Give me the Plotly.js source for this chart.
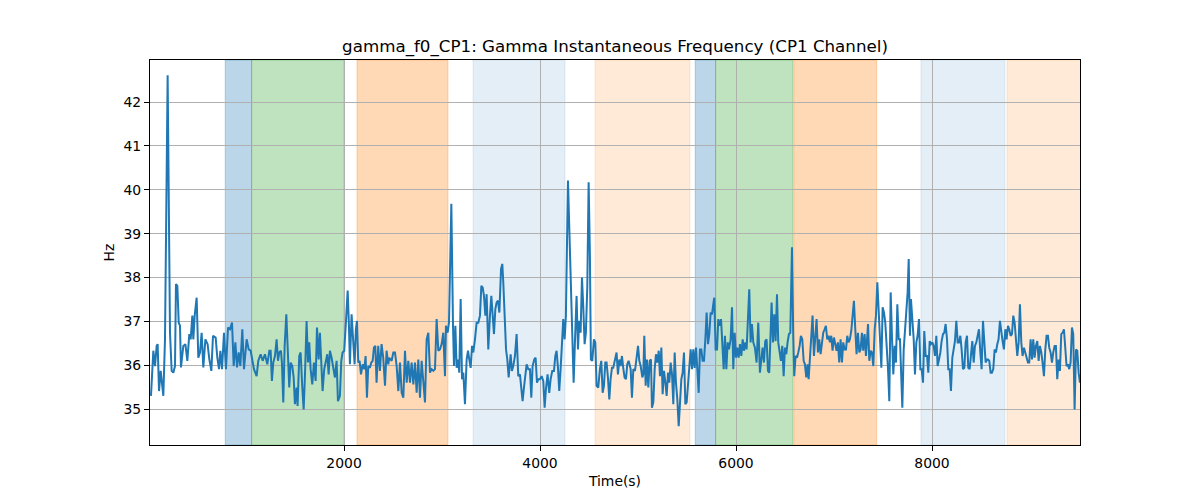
<!DOCTYPE html>
<html>
<head>
<meta charset="utf-8">
<script src="https://cdn.plot.ly/plotly-3.0.1.min.js"></script>
<style>
  body { margin: 0; background: #fff; }
  #myDiv { width: 1200px; height: 500px; }
</style>
</head>
<body>
<div id="myDiv"></div>
<script>
// sample times (s)
var time = [
  30,54,71,88,98,112,129,156,173,200,224,241,258,275,285,299,313,326,336,360,381,401,421,435,452,462,476,496,513,530,547,564,585,608,625,646,663,690,707,724,738,755,775,795,816,836,857,874,891,908,925,942,962,979,1006,1027,1047,1064,1081,1108,1125,1149,1170,1193,1217,1238,
  1251,1264,1278,1295,1312,1326,1339,1356,1366,1380,1394,1411,1424,1441,1455,1472,1486,1499,1516,1526,1543,1557,1574,1588,1601,1618,1632,1645,1659,1676,1693,1710,1724,1741,1754,1768,1781,1798,1815,1829,1843,1856,1873,1890,1907,1924,1938,1958,1972,1985,2002,2020,2037,2050,2060,2077,2091,2108,2121,2132,2145,2159,2173,2190,2207,2220,2234,2247,2264,2278,2292,2305,2319,2332,2349,2366,2383,2400,2418,2434,2451,
  2462,2486,2503,2520,2537,2554,2571,2588,2605,2622,2639,2656,2673,2690,2707,2724,2741,2758,2775,2792,2809,2826,2843,2860,2877,2894,2911,2928,2945,2962,2979,2996,3013,3030,3040,3057,3071,3095,3112,3122,3136,3149,3163,3176,3190,3204,3217,3234,3251,3265,3278,3292,3306,3319,3336,3353,3370,3387,3401,3415,3428,3442,3455,3472,3489,3503,3517,3530,3544,3557,3571,3585,3602,3615,3625,3639,3653,3666,3680,
  3700,3713,3727,3744,3761,3778,3795,3809,3822,3836,3849,3863,3880,3897,3911,3924,3941,3955,3969,3982,3999,4016,4033,4047,4060,4077,4094,4108,4125,4142,4156,4169,4183,4196,4210,4224,4237,4251,4264,4285,4298,4315,4329,4343,4356,4373,4387,4400,4414,4428,4441,4455,4468,4482,4496,4509,4519,4533,4550,4564,4577,4594,4611,4625,4639,4652,4666,4679,4693,4707,4720,4734,4747,4764,4781,4795,4809,4822,4836,4849,4863,4877,4890,4904,
  4925,4938,4952,4969,4986,5000,5013,5027,5044,5054,5064,5078,5091,5105,5119,5132,5142,5156,5170,5183,5197,5211,5224,5238,5251,5265,5279,5292,5306,5319,5333,5347,5360,5374,5387,5401,5415,5428,5442,5455,5469,5483,5496,5510,5523,5537,5551,5564,5578,5591,5605,5619,5632,5646,5659,5673,5687,5700,5714,5727,5741,5755,5768,5778,5792,5806,5819,5833,5847,5860,5874,5887,5901,5915,5928,5945,5959,5972,5986,6000,6013,6027,6040,6054,6068,6081,6095,6108,6122,
  6135,6149,6162,6176,6193,6210,6227,6244,6258,6271,6285,6298,6312,6326,6339,6353,6363,6377,6390,6404,6418,6431,6445,6458,6472,6486,6499,6513,6526,6540,6554,6571,6584,6594,6608,6622,6635,6649,6662,6676,6690,6703,6717,6730,6741,6754,6768,6781,6795,6809,6822,6836,6849,6863,6877,6890,6904,6917,6931,6945,6958,6972,6985,6999,7013,7026,7040,7053,7067,7081,7094,7108,7122,7135,7149,7162,7176,7190,7203,7217,7230,7244,7258,7271,7285,7298,7312,7326,7339,
  7347,7360,7374,7387,7401,7415,7428,7442,7455,7469,7483,7496,7510,7523,7537,7551,7564,7578,7591,7605,7619,7632,7646,7660,7673,7687,7697,7711,7724,7738,7751,7762,7775,7785,7799,7813,7826,7840,7853,7867,7881,7894,7908,7921,7935,7949,7962,7976,7989,8003,8017,8030,8044,8057,8071,8085,8098,8112,8125,8139,8153,8166,8180,8193,8207,8221,8234,8248,8262,8275,8289,8302,8316,8330,8343,8357,8370,8384,8398,8411,8425,8438,8452,8466,8479,8493,8506,8520,8534,8547,8561,
  8571,8584,8598,8611,8625,8639,8652,8666,8679,8693,8707,8720,8734,8748,8761,8775,8788,8802,8816,8829,8843,8856,8870,8884,8897,8911,8924,8938,8952,8965,8979,8992,9006,9020,9033,9047,9060,9074,9088,9101,9115,9128,9142,9156,9169,9183,9196,9210,9224,9237,9251,9264,9278,9292,9305,9319,9332,9346,9360,9373,9387,9400,9414,9428,9441,9455,9469,9482,9496,9509
];

// gamma instantaneous frequency (Hz)
var gammaF0 = [
  35.30,36.33,35.98,36.44,36.48,35.41,35.87,35.30,36.59,42.61,36.74,35.87,35.83,35.98,37.85,37.81,36.97,36.90,35.95,36.44,36.48,36.10,36.71,36.59,37.13,36.59,37.13,37.54,36.17,36.29,36.74,35.95,36.59,36.48,36.14,35.87,36.67,36.63,36.17,35.91,36.33,35.91,36.74,35.91,36.86,36.82,36.97,35.98,36.52,35.95,36.29,35.98,36.82,35.91,36.59,36.36,36.33,36.10,35.91,35.75,36.10,36.25,36.10,36.25,36.02,36.33,
  36.33,35.64,36.06,36.21,36.59,36.10,36.29,36.33,36.06,35.15,36.44,37.16,36.36,35.49,36.06,35.98,35.72,35.11,35.49,35.07,36.21,36.29,35.49,34.99,35.75,37.01,36.06,36.52,35.91,35.56,36.06,35.64,36.86,36.13,36.74,35.94,35.41,35.91,36.10,36.25,35.79,36.33,36.17,35.91,35.72,36.10,35.18,35.30,36.10,36.29,36.33,37.01,37.70,36.90,36.02,37.16,36.52,36.02,36.82,37.01,36.06,36.10,35.79,36.02,35.91,36.21,35.26,35.98,35.94,36.06,36.10,36.40,36.44,35.60,36.44,35.87,36.48,36.17,35.53,36.33,36.02,
  36.17,36.10,36.29,36.29,35.98,35.41,36.06,35.37,35.26,36.33,35.60,36.10,35.60,36.06,35.56,36.06,35.37,36.13,35.26,36.10,35.60,35.15,36.59,36.74,35.83,35.91,35.87,35.91,37.05,36.33,36.36,36.48,36.74,35.75,36.90,36.74,36.97,39.68,36.90,35.98,36.90,35.94,36.13,35.83,37.51,35.68,35.83,35.11,36.13,36.33,36.13,35.94,36.44,36.29,36.59,36.97,36.97,37.13,37.81,37.77,37.58,37.13,37.62,36.36,37.13,37.58,37.13,36.71,37.28,37.43,37.47,37.20,38.19,38.31,37.89,37.13,36.36,36.13,35.72,
  36.25,35.87,35.98,36.21,36.71,35.75,35.79,35.41,35.18,35.49,35.75,36.02,35.91,35.91,35.26,35.98,36.13,36.17,35.60,35.68,35.68,35.75,35.64,35.03,35.45,35.79,35.37,35.68,35.87,35.87,36.21,36.33,35.94,35.41,35.91,36.59,37.05,36.59,37.13,40.21,39.26,37.58,36.52,35.60,36.52,37.58,36.36,37.01,36.74,38.00,37.35,36.48,36.74,37.77,40.17,38.50,36.13,36.10,36.59,36.52,35.53,35.49,35.91,36.10,35.37,35.53,36.06,36.06,35.72,35.22,35.68,35.94,35.94,36.10,36.29,35.79,36.13,35.98,36.21,35.94,35.72,35.68,36.02,36.10,
  35.91,35.26,35.91,35.87,36.21,36.44,36.10,35.98,35.72,35.79,36.67,35.53,36.13,35.49,36.10,36.13,35.03,35.15,35.91,36.25,36.06,36.33,35.75,36.40,35.34,35.87,35.60,35.30,35.83,35.60,36.06,35.79,35.11,36.29,35.60,35.22,34.61,35.22,35.68,35.83,36.29,35.11,35.15,35.56,35.98,36.36,35.91,36.36,35.94,36.40,35.91,35.37,36.36,36.36,36.10,36.10,36.59,37.20,36.48,36.71,37.20,37.16,37.39,37.54,36.36,36.36,37.05,36.90,37.05,36.52,35.91,36.67,35.91,36.52,36.36,36.59,37.32,35.91,36.74,36.17,36.40,36.17,36.48,36.21,36.59,36.33,36.52,36.36,37.13,
  37.73,36.52,36.94,36.52,36.40,36.06,36.97,35.83,36.10,36.40,36.06,36.55,36.59,35.87,35.83,36.67,37.43,36.52,37.16,36.55,37.62,36.52,36.33,36.10,36.44,35.75,36.40,36.25,36.52,36.71,36.74,38.69,36.67,35.75,36.21,36.17,36.29,36.44,36.67,36.59,36.10,36.02,35.72,36.02,35.68,36.17,36.67,37.13,36.21,36.59,37.05,36.29,36.59,36.25,36.52,36.74,36.82,36.90,36.59,36.67,36.52,36.67,36.33,36.63,36.48,36.33,36.52,36.06,36.59,36.06,36.52,36.36,36.36,36.67,36.52,36.59,36.78,37.13,37.47,36.82,36.25,36.74,36.29,36.36,36.74,36.33,36.71,36.21,36.90,
  36.94,36.10,36.33,36.29,35.98,36.82,37.13,37.89,37.28,36.59,35.94,37.32,37.20,36.97,36.52,35.91,35.18,37.66,36.67,35.79,36.44,36.06,37.39,36.59,36.59,35.79,35.03,36.36,36.86,37.16,37.66,38.42,36.67,37.51,37.13,36.59,35.79,36.52,36.67,37.05,35.91,35.91,35.60,36.78,36.21,36.21,35.83,36.55,36.48,36.52,36.44,36.21,36.67,35.98,36.13,36.29,36.55,36.71,36.74,36.94,36.59,35.91,35.91,35.41,36.17,36.36,36.55,37.01,36.52,36.52,36.67,36.36,35.91,35.94,36.52,36.67,35.94,35.91,36.36,36.55,36.06,36.44,36.52,36.67,36.82,36.29,35.91,37.01,36.36,36.06,36.13,
  36.13,36.10,35.83,35.83,35.91,36.36,36.29,36.48,36.59,37.01,36.71,36.55,36.36,36.82,36.59,36.90,36.82,36.67,36.71,37.13,36.97,36.59,36.21,36.52,37.39,36.52,36.21,36.40,36.29,36.13,36.06,36.06,36.59,36.13,36.59,36.17,36.44,36.55,36.10,36.44,36.29,36.06,35.75,36.36,36.67,36.67,36.40,36.29,36.06,36.29,36.44,36.44,35.68,36.13,35.87,36.71,36.74,36.82,36.36,35.98,36.02,35.91,36.06,36.86,36.71,34.99,36.36,36.33,35.83,35.60
];

// shaded intervals (s) and their kind
var spanStart = [788, 1057, 2132, 3316, 4561, 5584, 5792, 6590, 7887, 8765];
var spanEnd   = [1057, 2000, 3061, 4255, 5530, 5792, 6581, 7435, 8744, 9600];
var spanKind  = [0, 1, 2, 3, 4, 0, 1, 2, 3, 4];

var kindColor = [
  'rgba(31,119,180,0.3)',
  'rgba(44,160,44,0.3)',
  'rgba(255,127,14,0.3)',
  'rgba(31,119,180,0.12)',
  'rgba(255,127,14,0.16)'
];

var shapes = [];
for (var i = 0; i < spanStart.length; i++) {
  shapes.push({
    type: 'rect',
    xref: 'x', yref: 'paper',
    x0: spanStart[i], x1: spanEnd[i],
    y0: 0, y1: 1,
    fillcolor: kindColor[spanKind[i]],
    line: {color: kindColor[spanKind[i]], width: 1},
    layer: 'below'
  });
}

var trace1 = {
  x: time,
  y: gammaF0,
  type: 'scatter',
  mode: 'lines',
  line: {color: '#1f77b4', width: 2},
  showlegend: false
};

var fontFam = 'DejaVu Sans, sans-serif';

var layout = {
  width: 1200,
  height: 500,
  margin: {l: 150, r: 120, t: 60, b: 55},
  paper_bgcolor: '#fff',
  plot_bgcolor: 'rgba(0,0,0,0)',
  font: {family: fontFam, size: 13.9, color: '#000'},
  title: {
    text: 'gamma_f0_CP1: Gamma Instantaneous Frequency (CP1 Channel)',
    font: {family: fontFam, size: 16.7, color: '#000'},
    x: 0.5, xref: 'paper',
    y: 0.908, yref: 'container', yanchor: 'middle'
  },
  xaxis: {
    range: [20, 9510],
    tickvals: [2000, 4000, 6000, 8000],
    ticktext: ['2000', '4000', '6000', '8000'],
    showgrid: true, gridcolor: '#b0b0b0', gridwidth: 0.8,
    zeroline: false,
    showline: true, mirror: true, linecolor: '#000', linewidth: 1,
    ticks: 'outside', ticklen: 5, tickcolor: '#000',
    title: {text: 'Time(s)', standoff: 6, font: {family: fontFam, size: 13.9}}
  },
  yaxis: {
    range: [34.18, 42.96],
    tickvals: [35, 36, 37, 38, 39, 40, 41, 42],
    showgrid: true, gridcolor: '#b0b0b0', gridwidth: 0.8,
    zeroline: false,
    showline: true, mirror: true, linecolor: '#000', linewidth: 1,
    ticks: 'outside', ticklen: 5, tickcolor: '#000',
    title: {text: 'Hz', standoff: 5, font: {family: fontFam, size: 13.9}}
  },
  shapes: shapes
};

Plotly.newPlot('myDiv', [trace1], layout, {displayModeBar: false});
</script>
</body>
</html>
